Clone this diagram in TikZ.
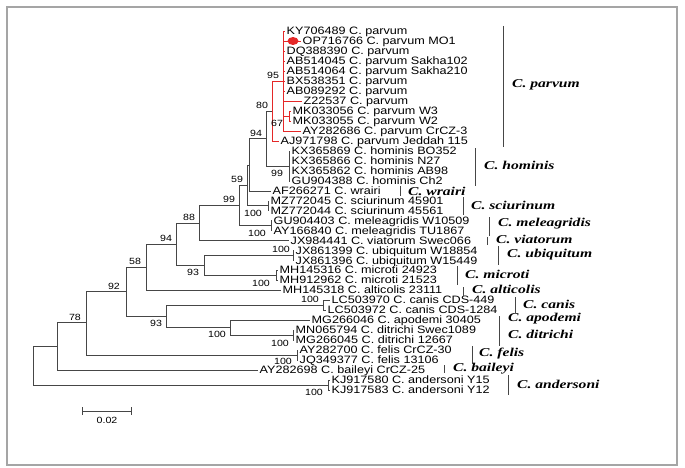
\documentclass[tikz,border=0pt]{standalone}
\usepackage{fontspec}
\setmainfont{Liberation Sans}
\newfontfamily\leaffont[FakeStretch=1.18]{Liberation Sans}
\newfontfamily\spfont[FakeStretch=1.3]{Liberation Serif}
\definecolor{treegray}{RGB}{70,70,70}
\definecolor{parvred}{RGB}{228,40,40}
\definecolor{framegray}{RGB}{165,165,165}

\begin{document}
\begin{tikzpicture}[x=1pt,y=-1pt,
    branch/.style={draw=treegray,line width=0.9pt},
    redbranch/.style={draw=parvred,line width=0.9pt},
    leaf/.style={anchor=west,inner xsep=1.5pt,inner ysep=0pt,text height=7.7pt,text depth=0pt,
      font=\leaffont\fontsize{10.7}{11}\selectfont},
    boot/.style={inner sep=0pt,font=\leaffont\fontsize{9}{10}\selectfont},
    species/.style={anchor=west,inner sep=0pt,font=\spfont\bfseries\itshape\fontsize{12}{13}\selectfont},
    bar/.style={draw=treegray,line width=1pt}]
  \useasboundingbox (0,0) rectangle (685,468);
  \draw[framegray,line width=1.2pt] (7,7) rectangle (677,465);

  % inner nodes of the tree
  \coordinate (root) at (33,365.5);
  \coordinate (nand) at (328,385);
  \coordinate (n57) at (57,346.5);
  \coordinate (n78) at (86,322.5);
  \coordinate (nfel) at (297,355);
  \coordinate (n92) at (126,291.5);
  \coordinate (n93b) at (166,316);
  \coordinate (ncan) at (323,305);
  \coordinate (n100) at (230,327.5);
  \coordinate (ndit) at (293,335);
  \coordinate (n58) at (146,267);
  \coordinate (n94) at (176,244);
  \coordinate (n93a) at (204,265);
  \coordinate (nubi) at (293,255.5);
  \coordinate (nmic) at (276,275);
  \coordinate (n88) at (199,223);
  \coordinate (n99) at (239,205.5);
  \coordinate (nmel) at (271,225.5);
  \coordinate (n59) at (247,185.5);
  \coordinate (nsci) at (268,205.75);
  \coordinate (nx) at (249,165);
  \coordinate (n94b) at (266,138.5);
  \coordinate (nhom) at (289,166);
  \coordinate (n80) at (272,111);
  \coordinate (n95) at (283,81);
  \coordinate (nmk) at (289,116);

  % leaves
  \node[leaf] (ky706489) at (285,31) {KY706489 C. parvum};
  \node[leaf] (op716766) at (301,41) {OP716766 C. parvum MO1};
  \node[leaf] (dq388390) at (285,51) {DQ388390 C. parvum};
  \node[leaf] (ab514045) at (285,61) {AB514045 C. parvum Sakha102};
  \node[leaf] (ab514064) at (285,71) {AB514064 C. parvum Sakha210};
  \node[leaf] (bx538351) at (285,81) {BX538351 C. parvum};
  \node[leaf] (ab089292) at (285,91) {AB089292 C. parvum};
  \node[leaf] (z22537) at (302,101) {Z22537 C. parvum};
  \node[leaf] (mk033056) at (291,111) {MK033056 C. parvum W3};
  \node[leaf] (mk033055) at (291,121) {MK033055 C. parvum W2};
  \node[leaf] (ay282686) at (301,131) {AY282686 C. parvum CrCZ-3};
  \node[leaf] (aj971798) at (279,141) {AJ971798 C. parvum Jeddah 115};
  \node[leaf] (kx365869) at (290,151) {KX365869 C. hominis BO352};
  \node[leaf] (kx365866) at (290,161) {KX365866 C. hominis N27};
  \node[leaf] (kx365862) at (290,171) {KX365862 C. hominis AB98};
  \node[leaf] (gu904388) at (290,181) {GU904388 C. hominis Ch2};
  \node[leaf] (af266271) at (271,191) {AF266271 C. wrairi};
  \node[leaf] (mz772045) at (269,201) {MZ772045 C. sciurinum 45901};
  \node[leaf] (mz772044) at (269,210.5) {MZ772044 C. sciurinum 45561};
  \node[leaf] (gu904403) at (272,220.5) {GU904403 C. meleagridis W10509};
  \node[leaf] (ay166840) at (272,230.5) {AY166840 C. meleagridis TU1867};
  \node[leaf] (jx984441) at (289,240.5) {JX984441 C. viatorum Swec066};
  \node[leaf] (jx861399) at (294,250.5) {JX861399 C. ubiquitum W18854};
  \node[leaf] (jx861396) at (294,260.5) {JX861396 C. ubiquitum W15449};
  \node[leaf] (mh145316) at (278,270) {MH145316 C. microti 24923};
  \node[leaf] (mh912962) at (278,280) {MH912962 C. microti 21523};
  \node[leaf] (mh145318) at (281,290) {MH145318 C. alticolis 23111};
  \node[leaf] (lc503970) at (330,300) {LC503970 C. canis CDS-449};
  \node[leaf] (lc503972) at (326,310) {LC503972 C. canis CDS-1284};
  \node[leaf] (mg266046) at (310,320) {MG266046 C. apodemi 30405};
  \node[leaf] (mn065794) at (294,330) {MN065794 C. ditrichi Swec1089};
  \node[leaf] (mg266045) at (294,340) {MG266045 C. ditrichi 12667};
  \node[leaf] (ay282700) at (298,350) {AY282700 C. felis CrCZ-30};
  \node[leaf] (jq349377) at (298,360) {JQ349377 C. felis 13106};
  \node[leaf] (ay282698) at (258,370) {AY282698 C. baileyi CrCZ-25};
  \node[leaf] (kj917580) at (330,380) {KJ917580 C. andersoni Y15};
  \node[leaf] (kj917583) at (330,390) {KJ917583 C. andersoni Y12};

  % branches
  \draw[branch] (root) |- (n57) (root) |- (nand);
  \draw[branch] (nand) |- (kj917580.west) (nand) |- (kj917583.west);
  \draw[branch] (n57) |- (n78) (n57) |- (ay282698.west);
  \draw[branch] (n78) |- (n92) (n78) |- (nfel);
  \draw[branch] (nfel) |- (ay282700.west) (nfel) |- (jq349377.west);
  \draw[branch] (n92) |- (n58) (n92) |- (n93b);
  \draw[branch] (n93b) |- (ncan) (n93b) |- (n100);
  \draw[branch] (ncan) |- (lc503970.west) (ncan) |- (lc503972.west);
  \draw[branch] (n100) |- (mg266046.west) (n100) |- (ndit);
  \draw[branch] (ndit) |- (mn065794.west) (ndit) |- (mg266045.west);
  \draw[branch] (n58) |- (n94) (n58) |- (mh145318.west);
  \draw[branch] (n94) |- (n88) (n94) |- (n93a);
  \draw[branch] (n93a) |- (nubi) (n93a) |- (nmic);
  \draw[branch] (nubi) |- (jx861399.west) (nubi) |- (jx861396.west);
  \draw[branch] (nmic) |- (mh145316.west) (nmic) |- (mh912962.west);
  \draw[branch] (n88) |- (n99) (n88) |- (jx984441.west);
  \draw[branch] (n99) |- (n59) (n99) |- (nmel);
  \draw[branch] (nmel) |- (gu904403.west) (nmel) |- (ay166840.west);
  \draw[branch] (n59) |- (nx) (n59) |- (nsci);
  \draw[branch] (nsci) |- (mz772045.west) (nsci) |- (mz772044.west);
  \draw[branch] (nx) |- (n94b) (nx) |- (af266271.west);
  \draw[branch] (n94b) |- (n80) (n94b) |- (nhom);
  \draw[branch] (nhom) |- (kx365869.west) (nhom) |- (kx365866.west)
    (nhom) |- (kx365862.west) (nhom) |- (gu904388.west);
  % the C. parvum clade in red
  \draw[redbranch] (n80) |- (n95) (n80) |- (aj971798.west);
  \draw[redbranch] (n95) |- (ky706489.west) (n95) |- (op716766.west)
    (n95) |- (dq388390.west) (n95) |- (ab514045.west)
    (n95) |- (ab514064.west) (n95) |- (bx538351.west)
    (n95) |- (ab089292.west) (n95) |- (z22537.west)
    (n95) |- (nmk) (n95) |- (ay282686.west);
  \draw[redbranch] (nmk) |- (mk033056.west) (nmk) |- (mk033055.west);
  \fill[parvred] (293,41) ellipse [x radius=5.5pt,y radius=4pt];

  % bootstrap values
  \node[boot] (b95) at (273,75) {95};
  \node[boot] (b80) at (262,105) {80};
  \node[boot] (b67) at (277,123) {67};
  \node[boot] (b94b) at (256,133) {94};
  \node[boot] (b99h) at (277,173) {99};
  \node[boot] (b59) at (237,179) {59};
  \node[boot] (b99) at (229,199) {99};
  \node[boot] (b100s) at (253,213) {100};
  \node[boot] (b88) at (189,217) {88};
  \node[boot] (b100m) at (257,233) {100};
  \node[boot] (b94) at (166,238) {94};
  \node[boot] (b100u) at (281,249) {100};
  \node[boot] (b58) at (135,261) {58};
  \node[boot] (b93a) at (193,272) {93};
  \node[boot] (b100mi) at (261,283) {100};
  \node[boot] (b92) at (114,286) {92};
  \node[boot] (b100c) at (310,299) {100};
  \node[boot] (b78) at (75,317) {78};
  \node[boot] (b93b) at (156,323) {93};
  \node[boot] (b100a) at (217,334) {100};
  \node[boot] (b100d) at (280,343) {100};
  \node[boot] (b100f) at (283,361) {100};
  \node[boot] (b100an) at (314,392) {100};

  % species bars
  \draw[bar] (503,26) -- (503,147);
  \node[species] (sparvum) at (512,85) {C. parvum};
  \draw[bar] (475,148) -- (475,186);
  \node[species] (shominis) at (484,165) {C. hominis};
  \draw[bar] (400,186) -- (400,196);
  \node[species] (swrairi) at (408,191) {C. wrairi};
  \draw[bar] (463,197) -- (463,215);
  \node[species] (ssciurinum) at (471,205) {C. sciurinum};
  \draw[bar] (489,217) -- (489,236);
  \node[species] (smeleagridis) at (498,224) {C. meleagridis};
  \draw[bar] (487,237) -- (487,245);
  \node[species] (sviatorum) at (496,239) {C. viatorum};
  \draw[bar] (498,246) -- (498,265);
  \node[species] (subiquitum) at (507,255) {C. ubiquitum};
  \draw[bar] (457,266) -- (457,285);
  \node[species] (smicroti) at (465,274) {C. microti};
  \draw[bar] (463,287) -- (463,296);
  \node[species] (salticolis) at (472,289) {C. alticolis};
  \draw[bar] (515,297) -- (515,313);
  \node[species] (scanis) at (523,304) {C. canis};
  \draw[bar] (499,316) -- (499,346);
  \node[species] (sapodemi) at (508,319) {C. apodemi};
  \node[species] (sditrichi) at (508,334) {C. ditrichi};
  \draw[bar] (472,346) -- (472,364);
  \node[species] (sfelis) at (479,354) {C. felis};
  \draw[bar] (444,365) -- (444,373);
  \node[species] (sbaileyi) at (453,369) {C. baileyi};
  \draw[bar] (508,375) -- (508,395);
  \node[species] (sandersoni) at (517,384) {C. andersoni};

  % scale bar
  \coordinate (sbl) at (82,411);
  \coordinate (sbr) at (132,411);
  \draw[branch,|-|] (sbl) -- (sbr);
  \node[boot] (sblabel) at (107,420) {0.02};
\end{tikzpicture}
\end{document}
